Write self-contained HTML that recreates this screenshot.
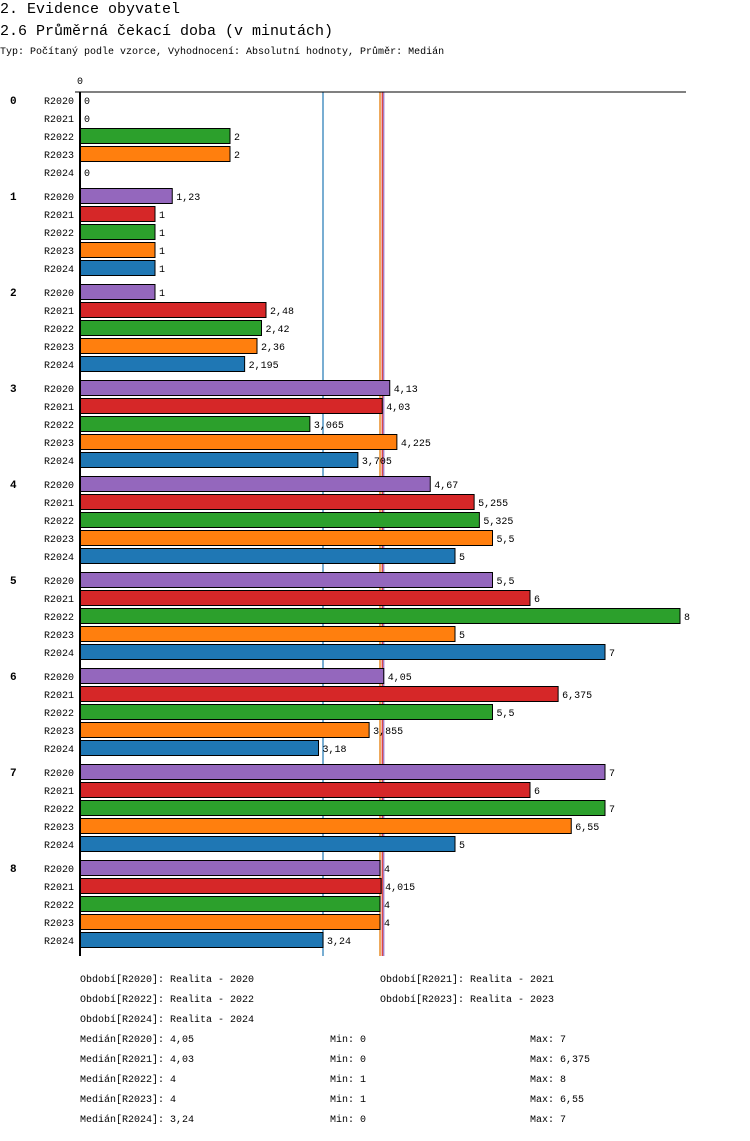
<!DOCTYPE html>
<html><head><meta charset="utf-8">
<style>
body{margin:0;background:#fff;width:750px;height:1136px;overflow:hidden;font-family:"Liberation Mono",monospace;}
svg text{font-family:"Liberation Mono",monospace;}
</style></head>
<body>
<svg id="chart" width="750" height="1136" xmlns="http://www.w3.org/2000/svg">
<text x="0" y="13" font-size="15" fill="#000">2. Evidence obyvatel</text>
<text x="0" y="35" font-size="15" fill="#000">2.6 Průměrná čekací doba (v minutách)</text>
<text x="0" y="54" font-size="10" fill="#000">Typ: Počítaný podle vzorce, Vyhodnocení: Absolutní hodnoty, Průměr: Medián</text>
<g id="plot"></g>
<g id="legend"></g>
</svg>
<script>
const groups = ["0","1","2","3","4","5","6","7","8"];
const seriesNames = ["R2020","R2021","R2022","R2023","R2024"];
const seriesColors = ["#9467bd","#d62728","#2ca02c","#ff7f0e","#1f77b4"];
const vR2020 = [0,1.23,1,4.13,4.67,5.5,4.05,7,4];
const vR2021 = [0,1,2.48,4.03,5.255,6,6.375,6,4.015];
const vR2022 = [2,1,2.42,3.065,5.325,8,5.5,7,4];
const vR2023 = [2,1,2.36,4.225,5.5,5,3.855,6.55,4];
const vR2024 = [0,1,2.195,3.705,5,7,3.18,5,3.24];
const medians = [4.05,4.03,4,4,3.24];
const mins = ["0","0","1","1","0"];
const maxs = ["7","6,375","8","6,55","7"];
const medianLabels = ["4,05","4,03","4","4","3,24"];
const periodLabels = ["Realita - 2020","Realita - 2021","Realita - 2022","Realita - 2023","Realita - 2024"];

const values = [vR2020,vR2021,vR2022,vR2023,vR2024];
const NS="http://www.w3.org/2000/svg";
const plot=document.getElementById('plot');
const X0=80, SCALE=75, TOP=92;
function xs(v){return X0+v*SCALE;}
function rowTop(g,r){return TOP+g*96+r*18;}
function fmt(v){return String(v).replace('.',',');}
function mk(tag,attrs,parent){const e=document.createElementNS(NS,tag);for(const k in attrs)e.setAttribute(k,attrs[k]);parent.appendChild(e);return e;}

[4,2,3,1,0].forEach(s=>{
  const l=mk('line',{x1:xs(medians[s]),x2:xs(medians[s]),y1:TOP,y2:956,stroke:seriesColors[s],'stroke-width':1.2},plot);
  
  
});
const ax=mk('line',{x1:75,x2:686,y1:TOP,y2:TOP,stroke:'#000','stroke-width':1},plot);


const t0=mk('text',{x:77,y:84,'font-size':10},plot);t0.textContent='0';



groups.forEach((g,gi)=>{
  const gl=mk('text',{x:10,y:rowTop(gi,0)+12,'font-size':11,'font-weight':'bold'},plot);gl.textContent=g;
  
  
  seriesNames.forEach((s,si)=>{
    const y=rowTop(gi,si);const v=values[si][gi];
    const sl=mk('text',{x:44,y:y+12,'font-size':10},plot);sl.textContent=s;
    
    
    if(v>0){
      const b=mk('rect',{x:X0,y:y+0.5,width:v*SCALE,height:15,fill:seriesColors[si],stroke:'#000','stroke-width':1},plot);
      
      
    }
    const vl=mk('text',{x:xs(v)+4,y:y+12,'font-size':10},plot);vl.textContent=fmt(v);
    
    
  });
});
const ya=mk('line',{x1:X0,x2:X0,y1:TOP,y2:956,stroke:'#000','stroke-width':2},plot);



const lg=document.getElementById('legend');
const pos=[[80,982],[380,982],[80,1002],[380,1002],[80,1022]];
seriesNames.forEach((s,i)=>{
  const t=mk('text',{x:pos[i][0],y:pos[i][1],'font-size':10},lg);t.textContent='Období['+s+']: '+periodLabels[i];
  
  
  const y=1042+i*20;
  const a=mk('text',{x:80,y:y,'font-size':10},lg);a.textContent='Medián['+s+']: '+medianLabels[i];
  
  
  const b=mk('text',{x:330,y:y,'font-size':10},lg);b.textContent='Min: '+mins[i];
  
  
  const c=mk('text',{x:530,y:y,'font-size':10},lg);c.textContent='Max: '+maxs[i];
  
  
});
</script>
</body></html>
